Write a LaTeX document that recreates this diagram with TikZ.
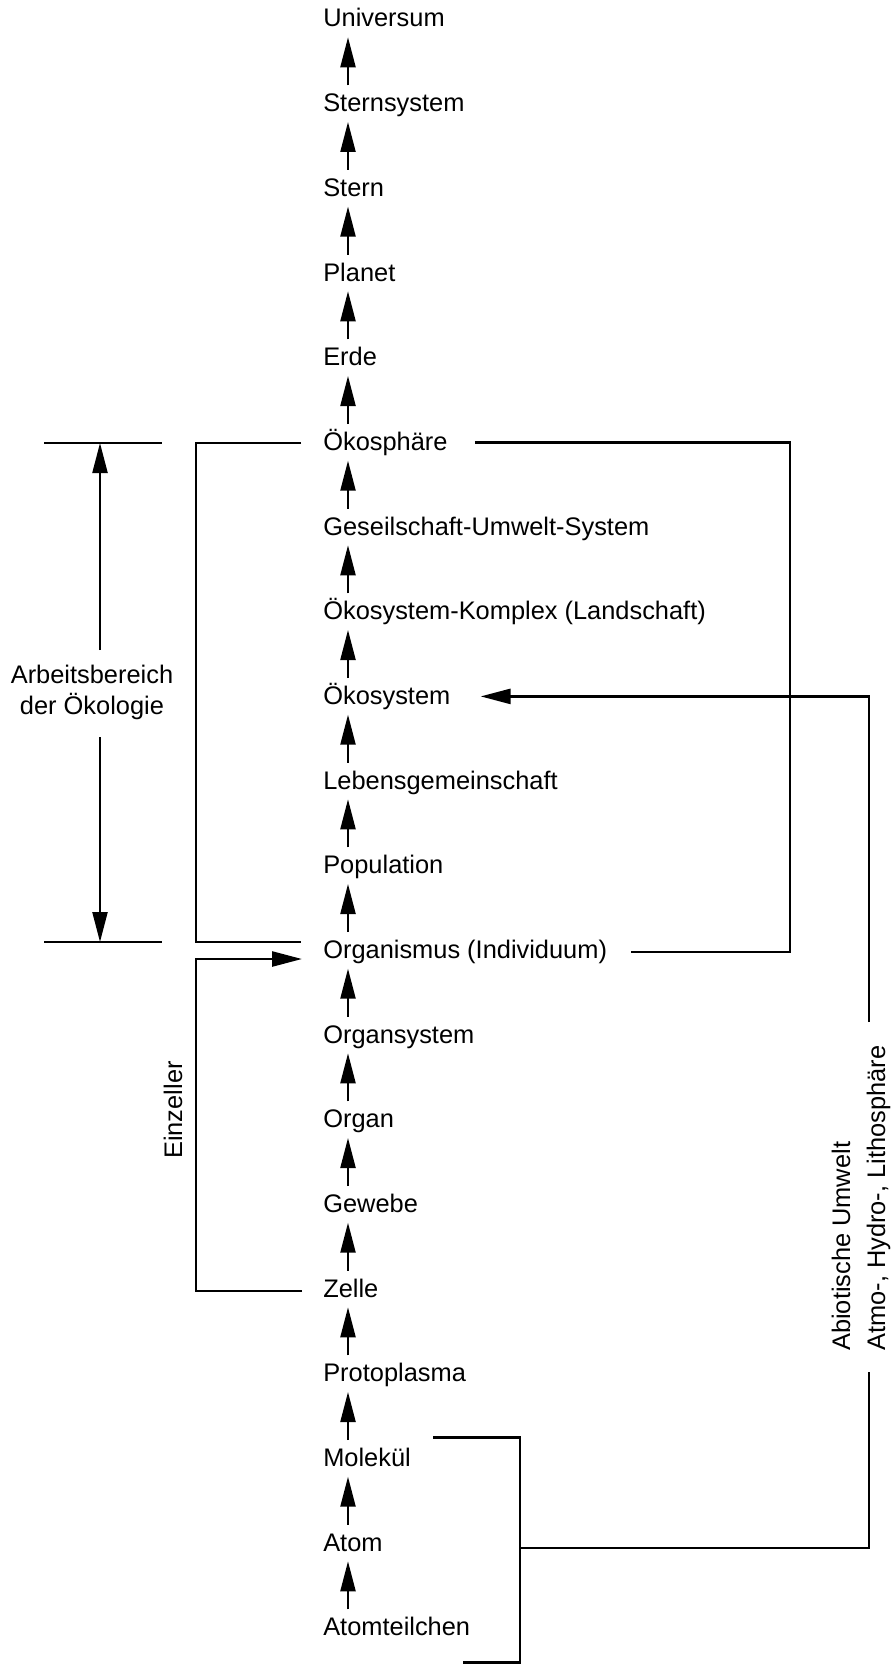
\documentclass[tikz,border=0pt]{standalone}
\usepackage{fontspec}
\setmainfont{Liberation Sans}
\usetikzlibrary{arrows.meta}
\newcommand{\lvlfont}{\fontsize{12.7pt}{15.5pt}\selectfont}
\begin{document}
\begin{tikzpicture}[x=0.5pt, y=-0.5pt, line join=miter, line width=1.3pt,
    >={Triangle[length=15pt,width=7.5pt]}]
  \tikzset{lvl/.style={anchor=base west, inner sep=0pt, text height=12.5pt, text depth=4.5pt, font=\lvlfont},
           note/.style={inner sep=0pt, font=\lvlfont},
           up/.style={->, line width=1.1pt}}
  \useasboundingbox (0,0) rectangle (894,1664);
  % Stufen
  \node[lvl] (universum) at (322,27) {Universum};
  \node[lvl] (sternsystem) at (322,111.7) {Sternsystem};
  \node[lvl] (stern) at (322,196.3) {Stern};
  \node[lvl] (planet) at (322,281) {Planet};
  \node[lvl] (erde) at (322,365.7) {Erde};
  \node[lvl] (oekosphaere) at (322,450.4) {Ökosphäre};
  \node[lvl] (gesellschaft) at (322,535) {Geseilschaft-Umwelt-System};
  \node[lvl] (komplex) at (322,619.7) {Ökosystem-Komplex (Landschaft)};
  \node[lvl] (oekosystem) at (322,704.4) {Ökosystem};
  \node[lvl] (lebensgem) at (322,789) {Lebensgemeinschaft};
  \node[lvl] (population) at (322,873.7) {Population};
  \node[lvl] (organismus) at (322,958.4) {Organismus (Individuum)};
  \node[lvl] (organsystem) at (322,1043) {Organsystem};
  \node[lvl] (organ) at (322,1127.7) {Organ};
  \node[lvl] (gewebe) at (322,1212.4) {Gewebe};
  \node[lvl] (zelle) at (322,1297) {Zelle};
  \node[lvl] (protoplasma) at (322,1381.7) {Protoplasma};
  \node[lvl] (molekuel) at (322,1466.4) {Molekül};
  \node[lvl] (atom) at (322,1551) {Atom};
  \node[lvl] (atomteilchen) at (322,1635.7) {Atomteilchen};
  % Pfeile nach oben
  \foreach \a/\b in {atomteilchen/atom, atom/molekuel, molekuel/protoplasma, protoplasma/zelle,
      zelle/gewebe, gewebe/organ, organ/organsystem, organsystem/organismus,
      organismus/population, population/lebensgem, lebensgem/oekosystem,
      oekosystem/komplex, komplex/gesellschaft, gesellschaft/oekosphaere,
      oekosphaere/erde, erde/planet, planet/stern, stern/sternsystem, sternsystem/universum}
    \draw[up] ([xshift=13pt]\a.north west) -- ([xshift=13pt]\b.south west);
  % Arbeitsbereich
  \draw[line width=1.4pt] (44,443) -- (162,443);
  \draw[line width=1.4pt] (44,942) -- (162,942);
  \node[note, align=center] (arbeit) at (92,692) {Arbeitsbereich\\der Ökologie};
  \coordinate (arbtop) at (100,443);
  \coordinate (arbbot) at (100,942);
  \draw[->, line width=1.1pt] (100,650) -- (arbtop);
  \draw[->, line width=1.1pt] (100,737) -- (arbbot);
  \draw ([shift={(-21,0.6)}]oekosphaere.west) -| (196,942) -- ([shift={(-21,-8.4)}]organismus.west);
  % Einzeller
  \draw[->] ([shift={(-20,2)}]zelle.west) -| (196,959) -- ([shift={(-20,8.6)}]organismus.west);
  \node[note, rotate=90] (einzeller) at (173,1110) {Einzeller};
  % rechte Klammer
  \draw ([xshift=13pt]oekosphaere.east) -| (790,952) -- ([shift={(23,1.6)}]organismus.east);
  % Abiotische Umwelt
  \draw[->] (869,1022) |- ([xshift=14.5pt]oekosystem.east);
  \node[note, rotate=90, align=left, anchor=west] (abiotisch) at (861,1352)
    {Abiotische Umwelt\\[2pt]Atmo-, Hydro-, Lithosphäre};
  \draw ([shift={(21,-21)}]molekuel.east) -| (520,1662.5) -- (463,1662.5);
  \draw (520,1548) -| (869,1372);
\end{tikzpicture}
\end{document}
